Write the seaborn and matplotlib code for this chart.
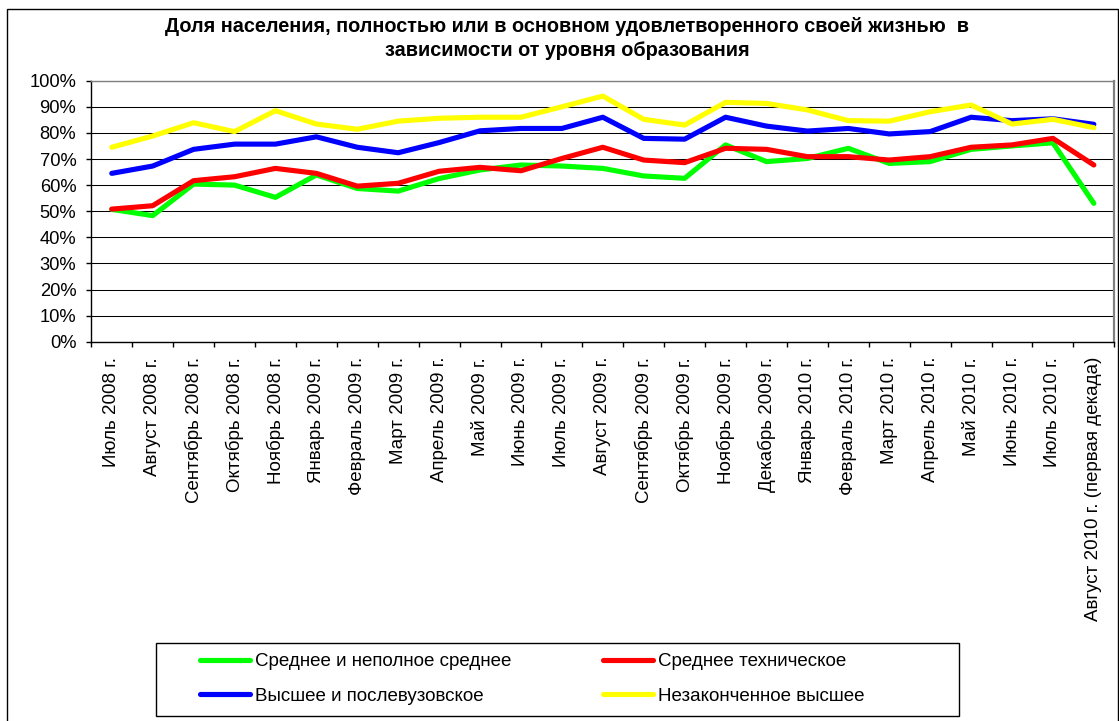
import numpy as np
import pandas as pd
import matplotlib
matplotlib.use("Agg")
import matplotlib.pyplot as plt
import seaborn as sns
from matplotlib.patches import Rectangle

months = [
    "Июль 2008 г.", "Август 2008 г.", "Сентябрь 2008 г.", "Октябрь 2008 г.",
    "Ноябрь 2008 г.", "Январь 2009 г.", "Февраль 2009 г.", "Март 2009 г.",
    "Апрель 2009 г.", "Май 2009 г.", "Июнь 2009 г.", "Июль 2009 г.",
    "Август 2009 г.", "Сентябрь 2009 г.", "Октябрь 2009 г.", "Ноябрь 2009 г.",
    "Декабрь 2009 г.", "Январь 2010 г.", "Февраль 2010 г.", "Март 2010 г.",
    "Апрель 2010 г.", "Май 2010 г.", "Июнь 2010 г.", "Июль 2010 г.",
    "Август 2010 г. (первая декада)",
]

srednee = [50.7, 48.3, 60.4, 60.0, 55.3, 63.9, 58.7, 57.7, 62.5, 65.8, 67.7, 67.3, 66.4,
           63.5, 62.6, 75.4, 69.0, 70.2, 74.1, 68.3, 69.0, 73.7, 75.0, 76.2, 53.0]
tehnicheskoe = [50.8, 52.1, 61.7, 63.2, 66.4, 64.5, 59.6, 60.7, 65.3, 66.8, 65.5, 70.2, 74.5,
                69.6, 68.6, 74.1, 73.7, 70.9, 70.9, 69.6, 70.9, 74.5, 75.4, 77.9, 67.7]
vysshee = [64.5, 67.3, 73.7, 75.7, 75.7, 78.5, 74.5, 72.4, 76.3, 80.8, 81.7, 81.7, 86.0,
           77.9, 77.6, 86.0, 82.6, 80.7, 81.7, 79.6, 80.5, 86.0, 84.7, 85.4, 83.3]
nezakonchennoe = [74.5, 78.8, 83.9, 80.5, 88.5, 83.4, 81.4, 84.5, 85.6, 86.0, 86.0, 90.0, 94.1,
                  85.2, 83.0, 91.7, 91.3, 88.8, 84.7, 84.5, 88.1, 90.7, 83.4, 85.2, 82.0]

series_names = ["Среднее и неполное среднее", "Среднее техническое",
                "Высшее и послевузовское", "Незаконченное высшее"]
colors = ["#00FF00", "#FF0000", "#0000FF", "#FFFF00"]

rows = []
for name, vals in zip(series_names, [srednee, tehnicheskoe, vysshee, nezakonchennoe]):
    for i, v in enumerate(vals):
        rows.append({"idx": i, "value": v, "series": name})
df = pd.DataFrame(rows)

sns.set_theme(style="white")
plt.rcParams["font.family"] = ["Liberation Sans", "DejaVu Sans"]
plt.rcParams["text.color"] = "black"

W, H = 1119, 721
fig = plt.figure(figsize=(W / 100, H / 100), dpi=100)
ax = fig.add_axes([91.3 / W, 1 - 341.7 / H, (1114.3 - 91.3) / W, (341.7 - 80.7) / H])

sns.lineplot(data=df, x="idx", y="value", hue="series", hue_order=series_names,
             palette=colors, linewidth=3.7, errorbar=None, ax=ax,
             solid_capstyle="round", solid_joinstyle="round")
handles, labels = ax.get_legend_handles_labels()
ax.get_legend().remove()

ax.set_xlim(-0.5, len(months) - 0.5)
ax.set_ylim(0, 100)
ax.set_xlabel("")
ax.set_ylabel("")

ax.set_yticks(range(0, 101, 10))
ax.set_yticklabels([f"{v}%" for v in range(0, 101, 10)])
ax.set_xticks(range(len(months)))
ax.set_xticklabels(months, rotation=90, fontsize=13.5)
ax.set_xticks(np.arange(-0.5, len(months), 1), minor=True)

ax.tick_params(axis="x", which="major", length=0, pad=11, labelcolor="black")
ax.tick_params(axis="x", which="minor", bottom=True, length=3.6, width=1,
               color="black", direction="out")
ax.tick_params(axis="y", left=True, length=3.6, width=1, color="black",
               direction="out", pad=7.2, labelsize=13.2, labelcolor="black")

ax.yaxis.grid(True, color="black", linewidth=0.75)
ax.set_axisbelow(True)

for side in ["left", "bottom"]:
    ax.spines[side].set_color("black")
    ax.spines[side].set_linewidth(1.0)
ax.spines["top"].set_color("#808080")
ax.spines["top"].set_linewidth(1.0)
ax.spines["right"].set_color("#808080")
ax.spines["right"].set_linewidth(1.6)

fig.text(567 / W, 1 - 38.5 / H,
         "Доля населения, полностью или в основном удовлетворенного своей жизнью  в\n"
         "зависимости от уровня образования",
         ha="center", va="center", fontsize=14.3, fontweight="bold", linespacing=1.32)

# outer chart border
fig.patches.append(Rectangle((6.7 / W, -0.02), (1118 - 6.7) / W, 1.02 - 9.3 / H,
                             transform=fig.transFigure, fill=False,
                             edgecolor="black", linewidth=1.0))

# legend box and two columns
fig.patches.append(Rectangle((156 / W, 1 - 716 / H), (959 - 156) / W, (716 - 643) / H,
                             transform=fig.transFigure, fill=False,
                             edgecolor="black", linewidth=1.0))
leg_kw = dict(frameon=False, fontsize=13.5, handlelength=2.67, handletextpad=0.27,
              labelspacing=0.93, borderpad=0, borderaxespad=0, loc="center left")
leg1 = fig.legend([handles[0], handles[2]], [labels[0], labels[2]],
                  bbox_to_anchor=(200 / W, 1 - 679 / H), **leg_kw)
leg2 = fig.legend([handles[1], handles[3]], [labels[1], labels[3]],
                  bbox_to_anchor=(603 / W, 1 - 679 / H), **leg_kw)
for leg in (leg1, leg2):
    for line in leg.get_lines():
        line.set_linewidth(3.7)
        line.set_solid_capstyle("round")

fig.savefig("out.png", dpi=100)
